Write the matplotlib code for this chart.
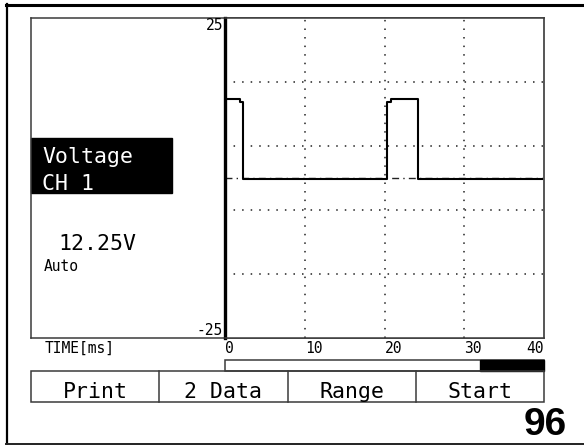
import numpy as np
import matplotlib
matplotlib.use('Agg')
import matplotlib.pyplot as plt
from matplotlib.patches import Rectangle
from matplotlib.transforms import blended_transform_factory

# trace (time in ms, voltage in V)
t_ms = [0, 1.9, 1.9, 2.2, 2.2, 20.3, 20.3, 20.8, 20.8, 24.2, 24.2, 40]
volts = [12.3, 12.3, 11.9, 11.9, -0.2, -0.2, 11.9, 11.9, 12.4, 12.4, -0.2, -0.2]

x_ticks = [0, 10, 20, 30, 40]
x_grid = [10, 20, 30]
y_grid = [15, 5, -5, -15]
y_range = (-25, 25)
x_range = (0, 40)
buttons = ['Print', '2 Data', 'Range', 'Start']
progress = 0.8  # part of the bar left white

W, H = 584, 445
MONO = 'DejaVu Sans Mono'
BOX = '#3a3a3a'

fig = plt.figure(figsize=(W / 100, H / 100), dpi=100)

# background axes in pixel units for the instrument frame
bg = fig.add_axes([0, 0, 1, 1])
bg.set_xlim(0, W)
bg.set_ylim(H, 0)
bg.axis('off')

# outer frame (open on the right)
bg.plot([6.5, 6.5], [4, 444], color='black', lw=1.6)
bg.plot([6, W], [4.5, 4.5], color='black', lw=2.2)
bg.plot([6, W], [443.5, 443.5], color='#222222', lw=1.4)

# left panel box
bg.plot([31, 31], [18, 338], color=BOX, lw=1.1)
bg.plot([31, 544], [18, 18], color=BOX, lw=1.1)
bg.plot([31, 544], [338, 338], color=BOX, lw=1.1)

# channel label
bg.add_patch(Rectangle((31, 138), 141, 55, color='black'))
bg.text(42, 163, 'Voltage', color='white', fontsize=15.5, family=MONO, va='baseline')
bg.text(42, 190, 'CH 1', color='white', fontsize=15.5, family=MONO, va='baseline')
bg.text(58, 250, '12.25V', color='black', fontsize=15.5, family=MONO, va='baseline')
bg.text(44, 271, 'Auto', color='black', fontsize=10.5, family=MONO, va='baseline')
bg.text(223, 18, str(y_range[1]), fontsize=10.5, family=MONO, ha='right', va='top')
bg.text(223, 338, str(y_range[0]), fontsize=10.5, family=MONO, ha='right', va='bottom')
bg.text(45, 353, 'TIME[ms]', fontsize=10.5, family=MONO, va='baseline')

# progress bar
bar_l, bar_r = 225, 544
bg.add_patch(Rectangle((bar_l, 360), bar_r - bar_l, 11, fill=False, ec=BOX, lw=1.1))
split = bar_l + progress * (bar_r - bar_l)
bg.add_patch(Rectangle((split, 360), bar_r - split, 11, color='black'))

# soft buttons
edges = np.linspace(31, 544, len(buttons) + 1)
bg.add_patch(Rectangle((31, 371), 513, 31, fill=False, ec=BOX, lw=1.1))
for i, name in enumerate(buttons):
    if i > 0:
        bg.plot([edges[i], edges[i]], [371, 402], color=BOX, lw=1.1)
    bg.text((edges[i] + edges[i + 1]) / 2, 398, name, fontsize=15.5, family=MONO,
            ha='center', va='baseline')

bg.text(567, 435, '96', fontsize=28, family='Liberation Sans', weight='bold',
        ha='right', va='baseline')

# scope screen
ax = fig.add_axes([225 / W, (H - 338) / H, 319 / W, 320 / H])
ax.set_xlim(*x_range)
ax.set_ylim(*y_range)
ax.set_xticks([])
ax.set_yticks([])
ax.spines['left'].set_linewidth(2.4)
ax.spines['left'].set_color('black')
for s in ['top', 'bottom']:
    ax.spines[s].set_linewidth(1.1)
    ax.spines[s].set_color(BOX)
ax.spines['right'].set_linewidth(1.4)
ax.spines['right'].set_color('#555555')

for g in x_grid:
    ax.axvline(g, color='#222222', lw=1.1, ls=(0, (1, 4.6)))
for g in y_grid:
    ax.axhline(g, color='#222222', lw=1.1, ls=(0, (1, 4.6)))
ax.axhline(0, color='#222222', lw=1.0, ls=(0, (5, 3, 1, 3)))

ax.plot(t_ms, volts, color='black', lw=1.5)

# time labels under the screen
tr = blended_transform_factory(ax.transData, bg.transData)
for v in x_ticks:
    bg.text(v, 353, str(v), transform=tr, fontsize=10.5, family=MONO,
            ha='right' if v == x_ticks[-1] else 'left', va='baseline')

fig.savefig('out.png', dpi=100)
